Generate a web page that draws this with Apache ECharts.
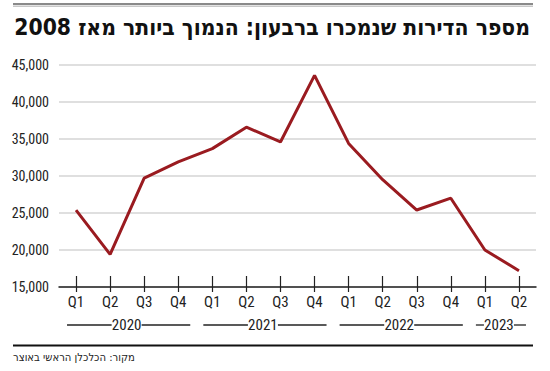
<!DOCTYPE html>
<html>
<head>
<meta charset="utf-8">
<script src="https://cdn.jsdelivr.net/npm/echarts@6/dist/echarts.min.js"></script>
<style>
html,body{margin:0;padding:0;background:#fff;}
#c{width:550px;height:371px;}
</style>
</head>
<body>
<div id="c"></div>
<script>
var quarters = ['Q1','Q2','Q3','Q4','Q1','Q2','Q3','Q4','Q1','Q2','Q3','Q4','Q1','Q2'];
var years = ['2020','2021','2022','2023'];
var yearStart = [0, 4, 8, 12];
var yearEnd = [3, 7, 11, 13];
var apartmentsSold = [25400, 19400, 29700, 31900, 33700, 36600, 34600, 43600, 34400, 29500, 25400, 27000, 20000, 17200];
var yTicks = [15000, 20000, 25000, 30000, 35000, 40000, 45000];
var titleText = 'מספר הדירות שנמכרו ברבעון: הנמוך ביותר מאז 2008';
var sourceText = 'מקור: הכלכלן הראשי באוצר';

var FONT = '"Roboto Condensed", "DejaVu Sans Condensed", sans-serif';
var TITLE_FONT = '"DejaVu Sans Condensed", "Noto Sans Hebrew", sans-serif';
var SRC_FONT = '"DejaVu Sans Condensed", "Noto Sans Hebrew", sans-serif';

function fitSize(text, weight, family, targetW) {
  var cv = document.createElement('canvas').getContext('2d');
  cv.font = weight + ' 100px ' + family;
  var w = cv.measureText(text).width;
  return 100 * targetW / w;
}
var titleSize = Math.min(26, fitSize(titleText, 'bold', TITLE_FONT, 516));
var srcSize = Math.min(13.5, fitSize(sourceText, 'normal', SRC_FONT, 122));

var chart = echarts.init(document.getElementById('c'), null, {renderer: 'svg'});

var option = {
  animation: false,
  backgroundColor: '#fff',
  grid: {left: 59, right: 14, top: 65, bottom: 84, containLabel: false},
  xAxis: [{
    type: 'category',
    data: quarters,
    boundaryGap: true,
    axisLine: {show: true, lineStyle: {color: '#222', width: 1.5}},
    axisTick: {show: true, alignWithLabel: true, inside: true, length: 11, lineStyle: {color: '#222', width: 1.2}},
    axisLabel: {show: false}
  }, {
    type: 'category',
    data: quarters,
    position: 'bottom',
    boundaryGap: true,
    axisLine: {show: false},
    axisTick: {show: true, alignWithLabel: true, inside: false, length: 5, lineStyle: {color: '#222', width: 1.2}},
    axisLabel: {show: true, interval: 0, color: '#222', fontFamily: FONT, fontSize: 15, margin: 7}
  }],
  yAxis: {
    type: 'value',
    min: yTicks[0],
    max: yTicks[yTicks.length - 1],
    interval: 5000,
    axisLine: {show: false},
    axisTick: {show: false},
    splitLine: {show: true, lineStyle: {color: '#d4d4d4', width: 1.5}},
    axisLabel: {
      color: '#222', fontFamily: FONT, fontSize: 14, margin: 10,
      formatter: function (v) { return v.toLocaleString('en-US'); }
    }
  },
  series: [{
    type: 'line',
    data: apartmentsSold,
    xAxisIndex: 0,
    symbol: 'none',
    lineStyle: {color: '#9a1b20', width: 3},
    z: 5
  }]
};
chart.setOption(option);

var g = [];
g.push({type: 'rect', shape: {x: 13, y: 3, width: 520, height: 2}, style: {fill: '#8a8a8a'}});
g.push({type: 'rect', shape: {x: 13, y: 5.5, width: 520, height: 1.5}, style: {fill: '#c8c8c8'}});
g.push({type: 'text', x: 530, y: 27, style: {text: titleText, fill: '#111', font: 'bold ' + titleSize.toFixed(2) + 'px ' + TITLE_FONT, textAlign: 'right', textVerticalAlign: 'middle'}});
var yRow = 325;
for (var i = 0; i < years.length; i++) {
  var x1 = chart.convertToPixel({xAxisIndex: 0}, yearStart[i]) - 9;
  var x2 = chart.convertToPixel({xAxisIndex: 0}, yearEnd[i]) + (i === years.length - 1 ? 7 : 12);
  var cx = (x1 + x2) / 2 - 2;
  g.push({type: 'line', shape: {x1: x1, y1: yRow, x2: cx - 15, y2: yRow}, style: {stroke: '#222', lineWidth: 1.3}});
  g.push({type: 'line', shape: {x1: cx + 15, y1: yRow, x2: x2, y2: yRow}, style: {stroke: '#222', lineWidth: 1.3}});
  g.push({type: 'text', x: cx, y: yRow, style: {text: years[i], fill: '#222', font: '15px ' + FONT, textAlign: 'center', textVerticalAlign: 'middle'}});
}
g.push({type: 'rect', shape: {x: 13, y: 344.5, width: 520, height: 2}, style: {fill: '#111'}});
g.push({type: 'text', x: 13, y: 357, style: {text: sourceText, fill: '#222', font: srcSize.toFixed(2) + 'px ' + SRC_FONT, textAlign: 'left', textVerticalAlign: 'middle'}});
chart.setOption({graphic: g});
</script>
</body>
</html>
